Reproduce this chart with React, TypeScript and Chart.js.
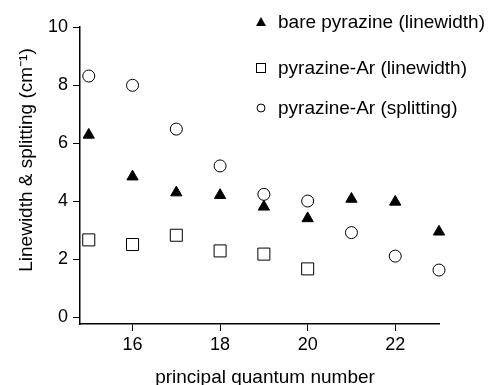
import React, { useEffect, useRef } from "react";
import { Chart, registerables } from "chart.js";

Chart.register(...registerables);

const quantumNumbers = [15, 16, 17, 18, 19, 20, 21, 22, 23];
const barePyrazineLinewidth = [6.28, 4.84, 4.29, 4.2, 3.8, 3.4, 4.07, 3.97, 2.94];
const pyrazineArLinewidthN = [15, 16, 17, 18, 19, 20];
const pyrazineArLinewidth = [2.66, 2.5, 2.82, 2.28, 2.17, 1.66];
const pyrazineArSplitting = [8.31, 7.99, 6.48, 5.21, 4.23, 4.0, 2.91, 2.1, 1.62];

const xTicks = [16, 18, 20, 22];
const yTicks = [0, 2, 4, 6, 8, 10];

const legendLabels = [
  "bare pyrazine (linewidth)",
  "pyrazine-Ar (linewidth)",
  "pyrazine-Ar (splitting)",
];
const xTitle = "principal quantum number";
const yTitle = "Linewidth & splitting (cm\u207B\u00B9)";

const FONT = "'Liberation Sans', Arial, Helvetica, sans-serif";

const textPlugin = {
  id: "textPlugin",
  afterDraw(chart: any) {
    const ctx = chart.ctx;
    ctx.save();
    ctx.fillStyle = "#000";
    ctx.strokeStyle = "#000";
    ctx.font = `19px ${FONT}`;
    // x title
    ctx.textAlign = "center";
    ctx.textBaseline = "alphabetic";
    ctx.fillText(xTitle, 265, 383);
    // y title
    ctx.save();
    ctx.translate(32, 160);
    ctx.rotate(-Math.PI / 2);
    ctx.textAlign = "center";
    ctx.fillText(yTitle, 0, 0);
    ctx.restore();
    // legend
    const ys = [22, 68, 108];
    const mx = 261;
    ctx.lineWidth = 1;
    ctx.beginPath();
    ctx.moveTo(mx, ys[0] - 5);
    ctx.lineTo(mx + 5, ys[0] + 4);
    ctx.lineTo(mx - 5, ys[0] + 4);
    ctx.closePath();
    ctx.fill();
    ctx.fillStyle = "#fff";
    ctx.fillRect(mx - 4.5, ys[1] - 4.5, 9, 9);
    ctx.strokeRect(mx - 4.5, ys[1] - 4.5, 9, 9);
    ctx.beginPath();
    ctx.arc(mx, ys[2], 4, 0, Math.PI * 2);
    ctx.fill();
    ctx.stroke();
    ctx.fillStyle = "#000";
    ctx.textAlign = "left";
    ctx.textBaseline = "middle";
    legendLabels.forEach((t, i) => ctx.fillText(t, 278, ys[i] + 1));
    ctx.restore();
  },
};

export default function App() {
  const ref = useRef<HTMLCanvasElement>(null);
  useEffect(() => {
    if (!ref.current) return;
    const chart = new Chart(ref.current, {
      type: "scatter",
      data: {
        datasets: [
          {
            label: legendLabels[0],
            data: quantumNumbers.map((x, i) => ({ x, y: barePyrazineLinewidth[i] })),
            pointStyle: "triangle",
            pointRadius: 6.5,
            backgroundColor: "#000",
            borderColor: "#000",
            borderWidth: 1,
            clip: false,
          },
          {
            label: legendLabels[1],
            data: pyrazineArLinewidthN.map((x, i) => ({ x, y: pyrazineArLinewidth[i] })),
            pointStyle: "rect",
            pointRadius: 8.5,
            backgroundColor: "#fff",
            borderColor: "#000",
            borderWidth: 1,
            clip: false,
          },
          {
            label: legendLabels[2],
            data: quantumNumbers.map((x, i) => ({ x, y: pyrazineArSplitting[i] })),
            pointStyle: "circle",
            pointRadius: 6,
            backgroundColor: "#fff",
            borderColor: "#000",
            borderWidth: 1,
            clip: false,
          },
        ],
      },
      options: {
        animation: false,
        responsive: false,
        devicePixelRatio: 1,
        layout: { padding: { left: 0, top: 27, right: 49, bottom: 0 } },
        plugins: { legend: { display: false }, tooltip: { enabled: false } },
        scales: {
          x: {
            type: "linear",
            min: 14.8,
            max: 23,
            afterBuildTicks: (s: any) => {
              s.ticks = xTicks.map((v) => ({ value: v }));
            },
            afterFit: (s: any) => {
              s.height = 61;
            },
            grid: { drawOnChartArea: false, drawTicks: true, tickLength: 7, color: "#000", lineWidth: 1 },
            border: { display: true, color: "#000", width: 1.5 },
            ticks: { color: "#000", font: { family: FONT, size: 18 }, padding: 3, maxRotation: 0 },
          },
          y: {
            type: "linear",
            min: -0.24,
            max: 10,
            afterBuildTicks: (s: any) => {
              s.ticks = yTicks.map((v) => ({ value: v }));
            },
            afterFit: (s: any) => {
              s.width = 80;
            },
            grid: { drawOnChartArea: false, drawTicks: true, tickLength: 7, color: "#000", lineWidth: 1 },
            border: { display: true, color: "#000", width: 1.5 },
            ticks: { color: "#000", font: { family: FONT, size: 18 }, padding: 5 },
          },
        },
      },
      plugins: [textPlugin],
    });
    return () => chart.destroy();
  }, []);
  return (
    <div style={{ position: "fixed", left: 0, top: 0, width: 488, height: 385, background: "#fff" }}>
      <canvas ref={ref} width={488} height={385} style={{ width: 488, height: 385 }} />
    </div>
  );
}
